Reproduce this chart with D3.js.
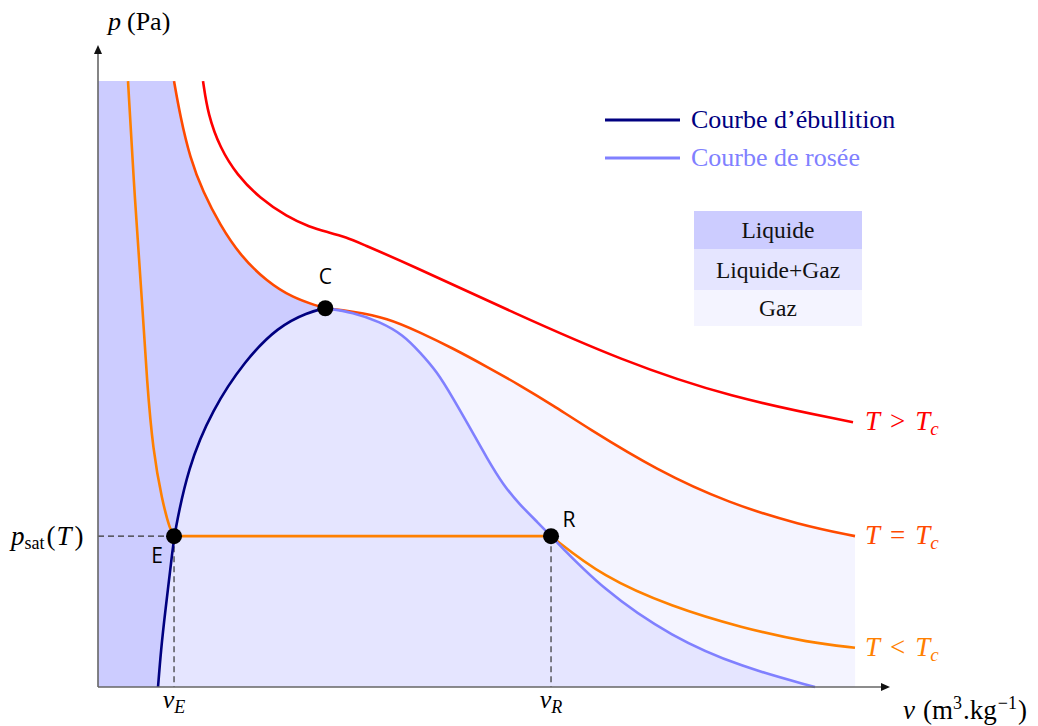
<!DOCTYPE html>
<html>
<head>
<meta charset="utf-8">
<script src="https://cdn.jsdelivr.net/npm/d3@7"></script>
<style>
  body { margin: 0; background: #fff; }
  svg { display: block; }
  .serif { font-family: "Liberation Serif", "DejaVu Serif", serif; }
  .math { font-family: "Liberation Serif", serif; font-style: italic; }
  .roman { font-style: normal; }
</style>
</head>
<body>
<div id="chart"></div>
<script>
// v en unités arbitraires (0..10), p en unités arbitraires (0..8)
const vMax = 10, pMax = 8;
const pTop = 7.55, vRight = 9.56;

const pointC = [2.87, 4.72];
const pointE = [0.96, 1.88];
const pointR = [5.72, 1.88];

// courbe d'ébullition (du bas vers C)
const ebullition = [[0.758, 0], [0.795, 0.46], [0.846, 0.92], [0.947, 1.74], [0.96, 1.88],
  [1.136, 2.74], [1.439, 3.45], [1.856, 4.07], [2.273, 4.49], [2.652, 4.67], [2.87, 4.72]];
// courbe de rosée (de C vers le bas)
const rosee = [[2.87, 4.72], [3.22, 4.67], [3.561, 4.55], [3.851, 4.39], [4.066, 4.17],
  [4.28, 3.93], [4.482, 3.60], [4.697, 3.23], [4.912, 2.85], [5.114, 2.52], [5.328, 2.27],
  [5.543, 2.06], [5.72, 1.88], [6.376, 1.21], [7.247, 0.62], [8.119, 0.25], [9.053, 0]];

// isotherme T > Tc
const isoSup = [[1.326, 7.55], [1.389, 7.13], [1.54, 6.72], [1.755, 6.38], [2.045, 6.09],
  [2.386, 5.86], [2.677, 5.73], [2.891, 5.67], [3.144, 5.60], [3.308, 5.53], [3.902, 5.28],
  [5.253, 4.66], [6.604, 4.07], [7.967, 3.61], [9.533, 3.30]];
// isotherme critique, partie liquide (jusqu'à C) et partie gaz (après C)
const isoCritLiq = [[0.96, 7.55], [1.035, 7.13], [1.162, 6.59], [1.326, 6.17], [1.54, 5.76],
  [1.793, 5.38], [2.134, 5.05], [2.462, 4.85], [2.765, 4.75], [2.87, 4.72]];
const isoCritGaz = [[2.87, 4.72], [3.22, 4.68], [3.649, 4.60], [4.066, 4.42], [4.482, 4.22],
  [4.912, 3.99], [5.328, 3.76], [5.745, 3.51], [6.162, 3.24], [7.058, 2.70], [7.967, 2.29],
  [8.864, 2.02], [9.558, 1.88]];
// isotherme T < Tc : branche liquide, palier, branche gaz
const isoInfLiq = [[0.379, 7.55], [0.467, 6.03], [0.556, 4.82], [0.619, 3.79], [0.694, 2.95],
  [0.808, 2.33], [0.909, 1.96], [0.96, 1.88]];
const isoInfPalier = [[0.96, 1.88], [5.72, 1.88]];
const isoInfGaz = [[5.72, 1.88], [6.376, 1.37], [7.247, 1.00], [8.119, 0.74], [8.99, 0.55], [9.558, 0.49]];

const legendItems = ['Courbe d\u2019ébullition', 'Courbe de rosée'];
const zoneLabels = ['Liquide', 'Liquide+Gaz', 'Gaz'];

const width = 1038, height = 726;
const svg = d3.select('#chart').append('svg').attr('width', width).attr('height', height);

const x = d3.scaleLinear().domain([0, vMax]).range([98, 890]);
const y = d3.scaleLinear().domain([0, pMax]).range([687, 45]);

const line = d3.line().x(d => x(d[0])).y(d => y(d[1])).curve(d3.curveBasis);
// enchaîne plusieurs morceaux dans un seul chemin
const join = (...parts) => parts.map((p, i) => i === 0 ? line(p) : line(p).replace(/^M/, 'L')).join('');

const colLiq = '#ccccff', colMix = '#e5e5ff', colGaz = '#f4f4ff';

// zone gaz : sous l'isotherme critique
svg.append('path')
  .attr('d', join(isoCritGaz) + `L${x(vRight)},${y(0)}L${x(pointC[0])},${y(0)}Z`)
  .attr('fill', colGaz);
// zone liquide+gaz : sous la courbe de saturation
svg.append('path')
  .attr('d', join(ebullition, rosee) + 'Z')
  .attr('fill', colMix);
// zone liquide
svg.append('path')
  .attr('d', `M${x(0)},${y(pTop)}` + join(isoCritLiq, ebullition.slice().reverse()).replace(/^M/, 'L') +
    `L${x(0)},${y(0)}Z`)
  .attr('fill', colLiq);

// pointillés
const dash = svg.append('g').attr('stroke', '#333').attr('stroke-width', 1.2).attr('stroke-dasharray', '6,4');
dash.append('line').attr('x1', x(0)).attr('x2', x(pointE[0])).attr('y1', y(pointE[1])).attr('y2', y(pointE[1]));
dash.append('line').attr('x1', x(pointE[0])).attr('x2', x(pointE[0])).attr('y1', y(pointE[1])).attr('y2', y(0));
dash.append('line').attr('x1', x(pointR[0])).attr('x2', x(pointR[0])).attr('y1', y(pointR[1])).attr('y2', y(0));

// courbes
const curves = [
  {d: join(isoSup), color: '#ff0000'},
  {d: join(isoCritLiq, isoCritGaz), color: '#ff4a00'},
  {d: join(isoInfLiq), color: '#ff8000'},
  {d: join(isoInfPalier), color: '#ff8000'},
  {d: join(isoInfGaz), color: '#ff8000'},
  {d: join(rosee), color: '#8080ff'},
  {d: join(ebullition), color: '#000080'}
];
svg.append('g').selectAll('path').data(curves).join('path')
  .attr('d', d => d.d).attr('fill', 'none').attr('stroke', d => d.color)
  .attr('stroke-width', 2.6).attr('stroke-linejoin', 'round');

// axes
const axisColor = '#666';
svg.append('line').attr('x1', x(0)).attr('x2', x(0)).attr('y1', y(0)).attr('y2', y(pMax) + 6)
  .attr('stroke', axisColor).attr('stroke-width', 1.6);
svg.append('line').attr('x1', x(0)).attr('x2', x(vMax) - 6).attr('y1', y(0)).attr('y2', y(0))
  .attr('stroke', axisColor).attr('stroke-width', 1.6);
svg.append('path').attr('d', `M${x(0)},${y(pMax)}l-4,9l8,0Z`).attr('fill', '#111');
svg.append('path').attr('d', `M${x(vMax)},${y(0)}l-9,-4l0,8Z`).attr('fill', '#111');

// points
svg.append('g').selectAll('circle').data([pointC, pointE, pointR]).join('circle')
  .attr('cx', d => x(d[0])).attr('cy', d => y(d[1])).attr('r', 8).attr('fill', '#000');

const ptFont = '"Open Sans", "DejaVu Sans", sans-serif';
const ptLabels = [
  {pt: pointC, t: 'C', dx: 0, dy: -24},
  {pt: pointE, t: 'E', dx: -17, dy: 27},
  {pt: pointR, t: 'R', dx: 18, dy: -9}
];
svg.append('g').selectAll('text').data(ptLabels).join('text')
  .attr('x', d => x(d.pt[0]) + d.dx).attr('y', d => y(d.pt[1]) + d.dy).attr('text-anchor', 'middle')
  .attr('font-family', ptFont).attr('font-size', 21).text(d => d.t);

// étiquettes d'axes
const yl = svg.append('text').attr('class', 'math').attr('x', 108).attr('y', 30).attr('font-size', 26);
yl.append('tspan').text('p');
yl.append('tspan').attr('class', 'roman').attr('dx', 6).text('(Pa)');

const xl = svg.append('text').attr('class', 'math').attr('x', 903).attr('y', 719).attr('font-size', 27);
xl.append('tspan').text('v');
xl.append('tspan').attr('class', 'roman').attr('dx', 8).text('(m');
xl.append('tspan').attr('class', 'roman').attr('font-size', 18).attr('dy', -10).text('3');
xl.append('tspan').attr('class', 'roman').attr('dy', 10).attr('dx', 1).text('.kg');
xl.append('tspan').attr('class', 'roman').attr('font-size', 18).attr('dy', -10).attr('dx', 1).text('\u22121');
xl.append('tspan').attr('class', 'roman').attr('dy', 10).attr('dx', 1).text(')');

const ps = svg.append('text').attr('class', 'math').attr('x', 11).attr('y', y(pointE[1]) + 9).attr('font-size', 27);
ps.append('tspan').text('p');
ps.append('tspan').attr('class', 'roman').attr('font-size', 18).attr('dy', 4).text('sat');
ps.append('tspan').attr('class', 'roman').attr('dy', -4).attr('dx', 2).text('(');
ps.append('tspan').attr('dx', 1).text('T');
ps.append('tspan').attr('class', 'roman').attr('dx', 3).text(')');

const tickV = [{v: pointE[0], sub: 'E'}, {v: pointR[0], sub: 'R'}];
tickV.forEach(t => {
  const tx = svg.append('text').attr('class', 'math').attr('x', x(t.v)).attr('y', 708)
    .attr('text-anchor', 'middle').attr('font-size', 26);
  tx.append('tspan').text('v');
  tx.append('tspan').attr('font-size', 18).attr('dy', 5).text(t.sub);
});

// étiquettes des isothermes
const isoLabels = [
  {p: isoSup[isoSup.length - 1][1], op: '>', color: '#ff0000'},
  {p: isoCritGaz[isoCritGaz.length - 1][1], op: '=', color: '#ff4a00'},
  {p: isoInfGaz[isoInfGaz.length - 1][1], op: '<', color: '#ff8000'}
];
isoLabels.forEach(l => {
  const t = svg.append('text').attr('class', 'math').attr('x', 865).attr('y', y(l.p) + 8)
    .attr('font-size', 27).attr('fill', l.color);
  t.append('tspan').text('T');
  t.append('tspan').attr('class', 'roman').attr('dx', 10).text(l.op);
  t.append('tspan').attr('dx', 10).text('T');
  t.append('tspan').attr('font-size', 19).attr('dy', 5).text('c');
});

// légende
const legColors = ['#000080', '#8080ff'];
const leg = svg.append('g');
legendItems.forEach((name, i) => {
  const ly = 120 + i * 38;
  leg.append('line').attr('x1', 605).attr('x2', 680).attr('y1', ly).attr('y2', ly)
    .attr('stroke', legColors[i]).attr('stroke-width', 3);
  leg.append('text').attr('class', 'serif').attr('x', 691).attr('y', ly + 8)
    .attr('font-size', 26).attr('fill', legColors[i]).text(name);
});

// tableau des zones
const rowTops = [211, 249, 290, 326];
const zoneColors = [colLiq, colMix, colGaz];
zoneLabels.forEach((name, i) => {
  svg.append('rect').attr('x', 694).attr('y', rowTops[i]).attr('width', 168)
    .attr('height', rowTops[i + 1] - rowTops[i]).attr('fill', zoneColors[i]);
  svg.append('text').attr('class', 'serif').attr('x', 778).attr('y', (rowTops[i] + rowTops[i + 1]) / 2 + 8)
    .attr('text-anchor', 'middle').attr('font-size', 23.5).attr('fill', '#111').text(name);
});
</script>
</body>
</html>
